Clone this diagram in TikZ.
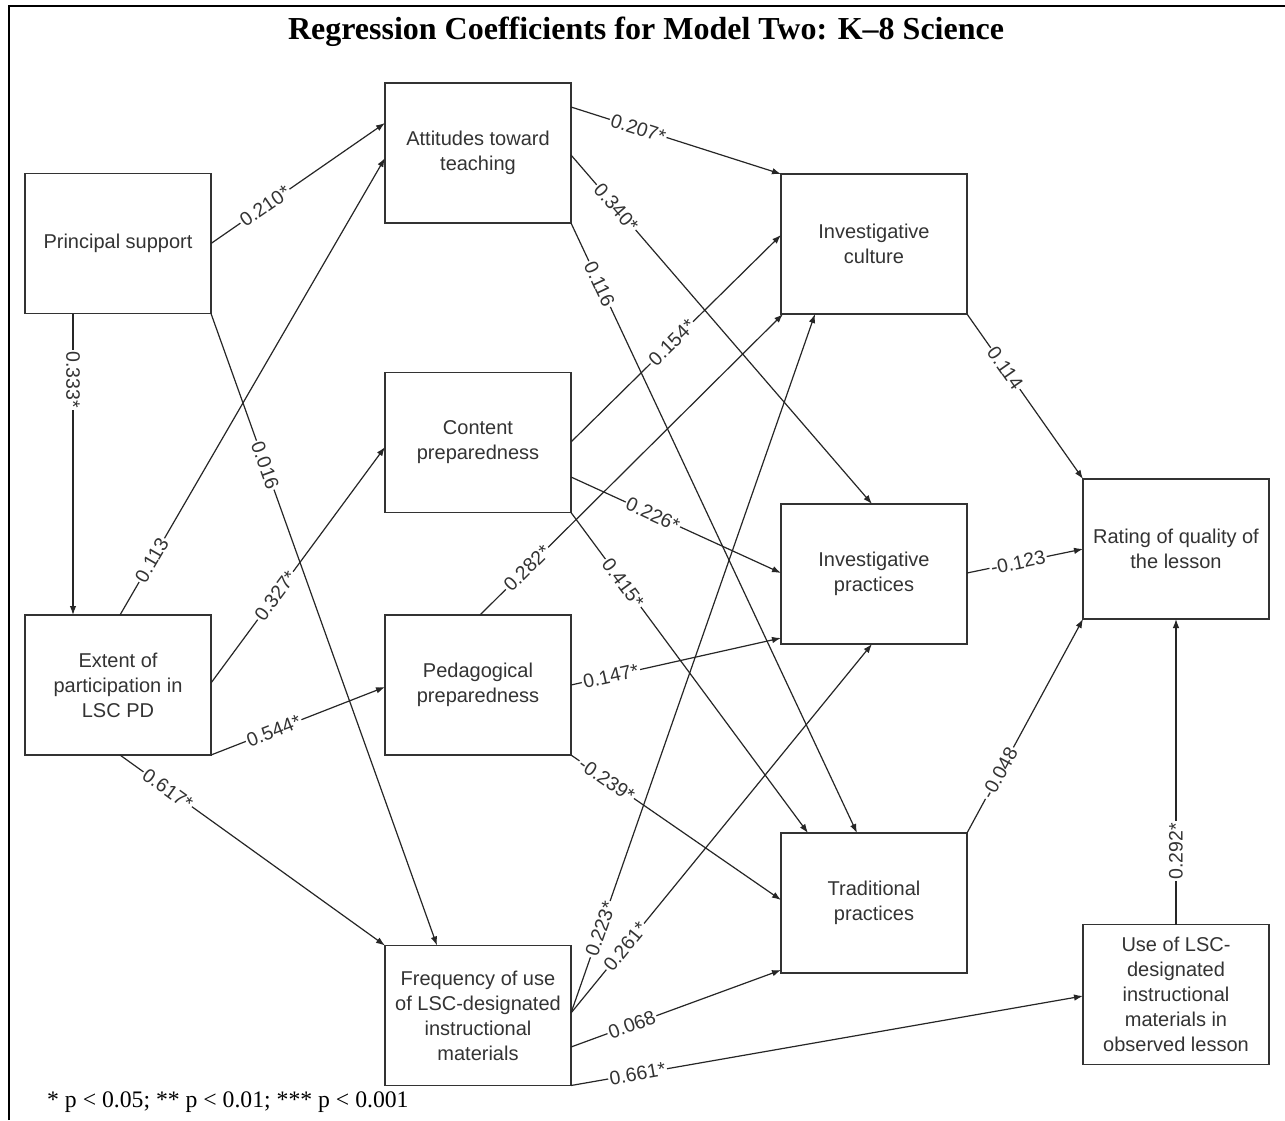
\documentclass[tikz,border=0pt]{standalone}
\usepackage{fontspec}
\setmainfont{Liberation Serif}
\setsansfont{Liberation Sans}
\usetikzlibrary{arrows.meta}
\definecolor{boxline}{HTML}{333333}
\definecolor{txt}{HTML}{333333}
\begin{document}
\begin{tikzpicture}[x=1pt,y=-1pt,
  box/.style={draw=boxline, line width=1.6pt, minimum width=186pt, minimum height=140pt, inner sep=2pt, outer sep=0pt, align=center, text=txt, font=\sffamily\fontsize{20}{25}\selectfont},
  conn/.style={draw=black!85, line width=1.2pt, -{Latex[length=9pt,width=6.5pt]}},
  lbl/.style={sloped, fill=white, inner sep=1.5pt, text=txt, font=\sffamily\fontsize{19.5}{21}\selectfont}
]
\fill[white] (0,0) rectangle (1285,1120);
\useasboundingbox (0,0) rectangle (1285,1120);
\draw[line width=2.5pt] (9,1120) -- (9,6) -- (1285,6);

\node[font=\bfseries\fontsize{32}{36}\selectfont] (title) at (646,32) {Regression Coefficients for Model Two: K–8 Science};
\node[anchor=base west, font=\fontsize{23.7}{26}\selectfont, inner sep=0pt] (note) at (47,1107) {* p < 0.05; ** p < 0.01; *** p < 0.001};

\node[box] (PS) at (118,243.5) {Principal support};
\node[box] (Ext) at (118,685) {Extent of\\participation in\\LSC PD};
\node[box] (Att) at (478,153) {Attitudes toward\\teaching};
\node[box] (Cont) at (478,442.5) {Content\\preparedness};
\node[box] (Ped) at (478,685) {Pedagogical\\preparedness};
\node[box] (Freq) at (478,1015.5) {Frequency of use\\of LSC-designated\\instructional\\materials};
\node[box] (IC) at (874,244) {Investigative\\culture};
\node[box] (IP) at (874,574) {Investigative\\practices};
\node[box] (TP) at (874,903) {Traditional\\practices};
\node[box] (Rate) at (1176,549) {Rating of quality of\\the lesson};
\node[box] (Use) at (1176,994.5) {Use of LSC-\\designated\\instructional\\materials in\\observed lesson};

\draw[conn] (PS.east) -- node[lbl,pos=0.31]{0.210*} ([yshift=30pt]Att.west);
\draw[conn] ([xshift=2pt]Ext.north) -- node[lbl,pos=0.12]{0.113} ([yshift=-5pt]Att.west);
\draw[conn] ([xshift=-45pt]PS.south) -- node[lbl,pos=0.22]{0.333*} ([xshift=-45pt]Ext.north);
\draw[conn] (PS.south east) -- node[lbl,pos=0.24]{0.016} ([xshift=-41pt]Freq.north);
\draw[conn] ([yshift=2pt]Ext.east) -- node[lbl,pos=0.37]{0.327*} ([yshift=-4.5pt]Cont.west);
\draw[conn] (Ext.south east) -- node[lbl,pos=0.36]{0.544*} ([yshift=-2pt]Ped.west);
\draw[conn] ([xshift=2pt]Ext.south) -- node[lbl,pos=0.18]{0.617*} (Freq.north west);
\draw[conn] ([yshift=46pt]Att.east) -- node[lbl,pos=0.32]{0.207*} (IC.north west);
\draw[conn] ([yshift=-2pt]Att.east) -- node[lbl,pos=0.15]{0.340*} ([xshift=-2pt]IP.north);
\draw[conn] (Att.south east) -- node[lbl,pos=0.10]{0.116} ([xshift=-17pt]TP.north);
\draw[conn] ([yshift=0.5pt]Cont.east) -- node[lbl,pos=0.48]{0.154*} ([yshift=9pt]IC.west);
\draw[conn] ([yshift=-34.5pt]Cont.east) -- node[lbl,pos=0.39]{0.226*} ([yshift=1pt]IP.west);
\draw[conn] (Cont.south east) -- node[lbl,pos=0.22]{0.415*} ([xshift=-66pt]TP.north);
\draw[conn] ([xshift=2pt]Ped.north) -- node[lbl,pos=0.155]{0.282*} ([xshift=2pt]IC.south west);
\draw[conn] (Ped.east) -- node[lbl,pos=0.19]{0.147*} ([yshift=-64pt]IP.west);
\draw[conn] (Ped.south east) -- node[lbl,pos=0.17]{-0.239*} ([yshift=3pt]TP.west);
\draw[conn] ([yshift=2.5pt]Freq.east) -- node[lbl,pos=0.12]{0.223*} ([xshift=-59pt]IC.south);
\draw[conn] ([yshift=2.5pt]Freq.east) -- node[lbl,pos=0.18]{0.261*} ([xshift=-2pt]IP.south);
\draw[conn] ([yshift=-31.5pt]Freq.east) -- node[lbl,pos=0.29]{0.068} ([yshift=3pt]TP.south west);
\draw[conn] (Freq.south east) -- node[lbl,pos=0.13]{0.661*} ([yshift=-1.5pt]Use.west);
\draw[conn] (IC.south east) -- node[lbl,pos=0.33]{0.114} (Rate.north west);
\draw[conn] ([yshift=1pt]IP.east) -- node[lbl,pos=0.44]{-0.123} (Rate.west);
\draw[conn] (TP.north east) -- node[lbl,pos=0.28]{-0.048} (Rate.south west);
\draw[conn] (Use.north) -- node[lbl,pos=0.24]{0.292*} (Rate.south);
\end{tikzpicture}
\end{document}
